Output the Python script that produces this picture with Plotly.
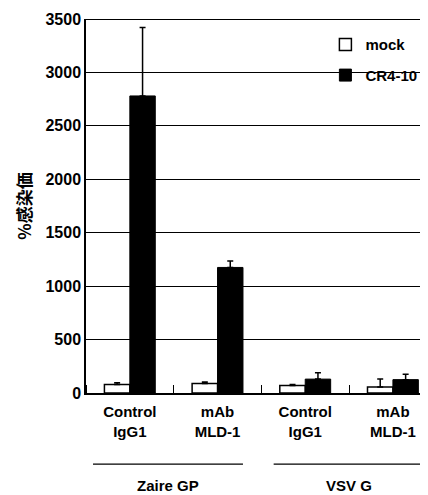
import plotly.graph_objects as go

categories = ["Control<br>IgG1", "mAb<br>MLD-1", "Control<br>IgG1", "mAb<br>MLD-1"]
groups = ["Zaire GP", "VSV G"]
mock_vals = [80, 90, 70, 55]
mock_err = [15, 12, 10, 75]
cr_vals = [2780, 1175, 130, 125]
cr_err = [640, 60, 60, 50]
y_ticks = [0, 500, 1000, 1500, 2000, 2500, 3000, 3500]

x = list(range(len(categories)))
FONT = "Liberation Sans, Arial, sans-serif"

fig = go.Figure()
fig.add_bar(
    x=x, y=mock_vals, name="mock", legendgroup="a",
    marker=dict(color="white", line=dict(color="black", width=1.5)),
    error_y=dict(type="data", array=mock_err, arrayminus=[0]*4, color="black", thickness=1.5, width=3),
)
fig.add_bar(
    x=x, y=cr_vals, name="CR4-10", legendgroup="b",
    marker=dict(color="black", line=dict(color="black", width=1)),
    error_y=dict(type="data", array=cr_err, arrayminus=[0]*4, color="black", thickness=1.5, width=3),
)

# the page body adds an 8px offset, so the figure is sized 8px smaller
fig.update_layout(
    width=420, height=487,
    margin=dict(l=78, r=0, t=11, b=102),
    paper_bgcolor="white", plot_bgcolor="white",
    barmode="group", bargap=0.42, bargroupgap=0,
    font=dict(family=FONT, size=15, color="black", weight="bold"),
    showlegend=True,
    legend=dict(x=0.70, y=0.975, xanchor="left", yanchor="top",
                bgcolor="rgba(0,0,0,0)", font=dict(size=15, weight="bold"),
                tracegroupgap=8, itemwidth=30),
)
fig.update_xaxes(
    range=[-0.5, 3.4], tickvals=x, ticktext=categories, ticks="", automargin=False,
    showline=True, linecolor="black", linewidth=2, showgrid=False, zeroline=False,
    tickfont=dict(size=15, weight="bold"), ticklabelstandoff=4,
    minor=dict(tick0=0.5, dtick=1, ticks="inside", ticklen=8, tickcolor="black", tickwidth=1, showgrid=False),
)
fig.update_yaxes(
    range=[0, 3500], tickvals=y_ticks, ticks="", automargin=False,
    showline=True, linecolor="black", linewidth=1.5,
    showgrid=True, gridcolor="black", gridwidth=1, zeroline=False,
    tickfont=dict(size=16, weight="bold"),
    title=dict(text="%感染価", font=dict(family="Noto Sans CJK JP", size=17, weight="bold"), standoff=10),
)
# top frame line
fig.add_shape(type="line", xref="paper", yref="y", x0=0, x1=1, y0=3500, y1=3500,
              line=dict(color="black", width=2))
# group underlines and labels
group_spans = [(-0.42, 1.29), (1.64, 3.35)]
for (a, b), g in zip(group_spans, groups):
    fig.add_shape(type="line", xref="x", yref="paper", x0=a, x1=b, y0=-0.19, y1=-0.19,
                  line=dict(color="black", width=1.2))
    fig.add_annotation(x=(a + b) / 2, y=-0.248, xref="x", yref="paper", text=g,
                       showarrow=False, font=dict(size=15, weight="bold"), yanchor="middle")

fig.write_html("out.html")
